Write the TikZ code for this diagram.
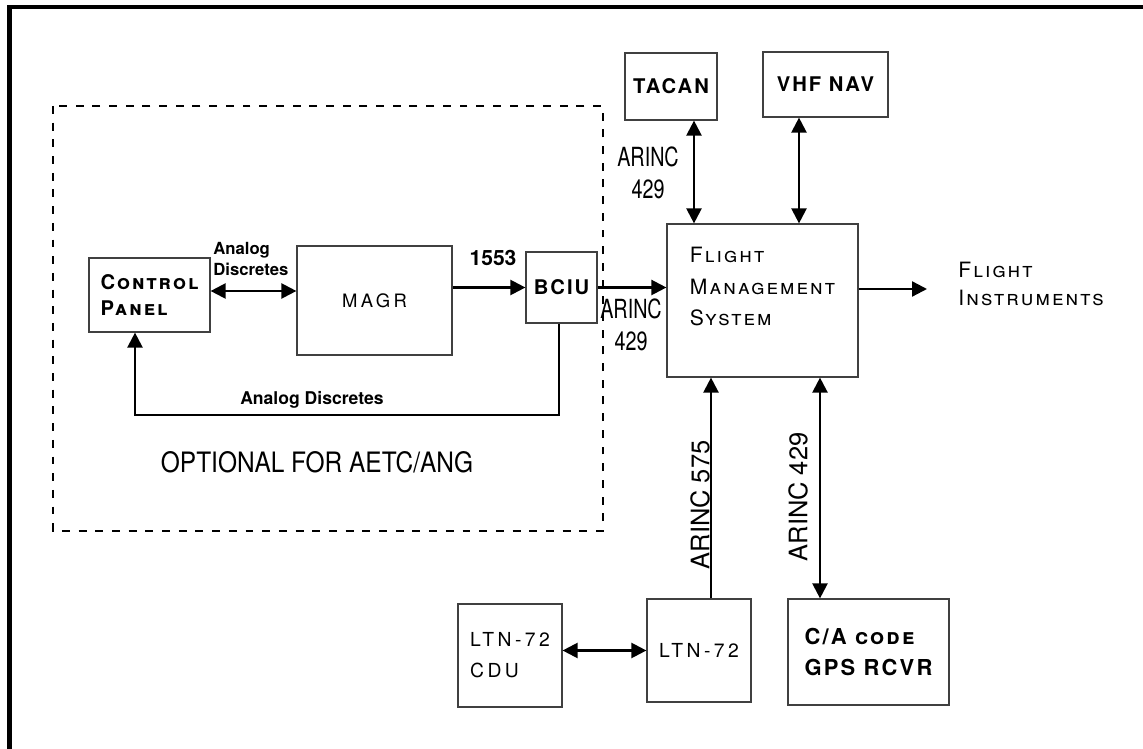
\documentclass[tikz,border=0pt]{standalone}
\usepackage{fontspec}
\setmainfont{TeX Gyre Heros}
\newfontfamily\widefont[LetterSpace=18]{TeX Gyre Heros}
\newfontfamily\scfont[LetterSpace=10]{TeX Gyre Heros}
\newfontfamily\narrowfont[FakeStretch=0.75]{TeX Gyre Heros}
\newfontfamily\condfont[FakeStretch=0.87]{TeX Gyre Heros}
\usetikzlibrary{arrows.meta}

\begin{document}
\begin{tikzpicture}[x=0.02cm,y=-0.02cm,
  box/.style={draw=black!75,line width=0.7pt,inner sep=0pt,align=left},
  arr/.style={line width=1.3pt,-{Triangle[length=8.5pt,width=8.5pt]}},
  biarr/.style={line width=1.3pt,{Triangle[length=8.5pt,width=8.5pt]}-{Triangle[length=8.5pt,width=8.5pt]}},
  arinc/.style={font=\narrowfont\fontsize{15}{18}\selectfont,align=center,inner sep=0pt}]
\useasboundingbox (0,0) rectangle (1143,749);

\draw[line width=2.3pt] (9.5,749) -- (9.5,7) -- (1143,7);
\draw[line width=1.5pt,dash pattern=on 4.5pt off 5pt] (53,106) rectangle (603,531);

\node[box,minimum width=2.42cm,minimum height=1.48cm,font=\scfont\bfseries\scshape\fontsize{11.5}{15}\selectfont] (cpanel) at (149.5,295) {Control\\Panel};
\node[box,minimum width=3.1cm,minimum height=2.18cm,font=\widefont\fontsize{10.5}{13}\selectfont] (magr) at (374.5,300.5) {MAGR};
\node[box,minimum width=1.42cm,minimum height=1.42cm,font=\scfont\bfseries\fontsize{11.5}{13}\selectfont] (bciu) at (561.5,287.5) {BCIU};
\node[box,minimum width=3.82cm,minimum height=3.06cm,text depth=16pt,font=\scfont\scshape\fontsize{12}{18}\selectfont] (fms) at (762.5,300.5) {Flight\\Management\\System};
\node[box,minimum width=1.84cm,minimum height=1.34cm,font=\scfont\bfseries\fontsize{11.5}{13}\selectfont] (tacan) at (671,86.5) {TACAN};
\node[box,minimum width=2.5cm,minimum height=1.3cm,font=\scfont\bfseries\fontsize{11.5}{13}\selectfont] (vhf) at (825.5,84.5) {VHF NAV};
\node[box,minimum width=2.08cm,minimum height=2.06cm,font=\widefont\fontsize{11}{17.5}\selectfont] (cdu) at (510,655.5) {LTN-72\\CDU};
\node[box,minimum width=2.08cm,minimum height=2.06cm,font=\widefont\fontsize{11}{13}\selectfont] (ltn) at (699,650.5) {LTN-72};
\node[box,minimum width=3.22cm,minimum height=2.12cm,font=\scfont\bfseries\scshape\fontsize{12.5}{17.5}\selectfont] (gps) at (868.5,652) {C/A code\\GPS RCVR};
\node[anchor=west,align=left,inner sep=0pt,font=\scfont\scshape\fontsize{12}{16}\selectfont] (finst) at (958,284) {Flight\\Instruments};
\coordinate (fiend) at (927,289);

% labels
\node[font=\bfseries\fontsize{12}{14}\selectfont] (l1553) at (493,258) {1553};
\node[anchor=west,align=left,inner sep=0pt,font=\bfseries\fontsize{9.5}{12.5}\selectfont] (adup) at (213,259) {Analog\\Discretes};
\node[font=\bfseries\fontsize{10}{12}\selectfont] (adlow) at (312,400) {Analog Discretes};
\node[arinc] (arinctop) at (648,173) {ARINC\\429};
\node[arinc] (arincmid) at (631,325) {ARINC\\429};
\node[rotate=90,font=\fontsize{14.5}{16}\selectfont] (arinc575) at (700,505) {ARINC 575};
\node[rotate=90,font=\fontsize{14.5}{16}\selectfont] (arinc429) at (798,497) {ARINC 429};
\node[font=\condfont\fontsize{16}{18}\selectfont] (optional) at (317,462) {OPTIONAL FOR AETC/ANG};

% connections
\draw[biarr] (cpanel.east |- 0,291) -- (magr.west |- 0,291);
\draw[arr] (magr.east |- bciu.west) -- (bciu.west);
\draw[arr] (bciu.east) -- (fms.west |- bciu.east);
\draw[arr] (bciu.south -| 559,0) -- (559,415) -- (135,415) -- (cpanel.south -| 135,0);
\draw[biarr] (tacan.south -| 694,0) -- (fms.north -| 694,0);
\draw[biarr] (vhf.south -| 799,0) -- (fms.north -| 799,0);
\draw[arr] (fms.east |- fiend) -- (fiend);
\draw[arr] (ltn.north -| 711,0) -- (fms.south -| 711,0);
\draw[biarr] (fms.south -| 820,0) -- (gps.north -| 820,0);
\draw[biarr] (cdu.east |- ltn.west) -- (ltn.west);
\end{tikzpicture}
\end{document}
